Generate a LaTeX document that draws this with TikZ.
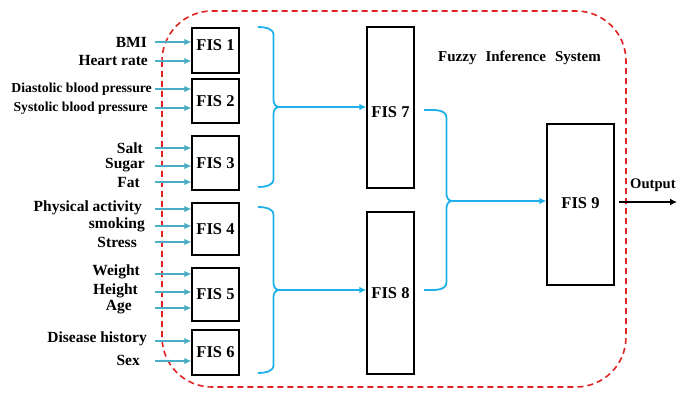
\documentclass[tikz,border=0pt]{standalone}
\usepackage{fontspec}
\setmainfont{Liberation Serif}
\usetikzlibrary{arrows.meta}
\definecolor{inblue}{HTML}{4BACC6}
\definecolor{brblue}{HTML}{1FB0EA}
\definecolor{dred}{HTML}{E02424}
\tikzset{
  fisbox/.style={draw, line width=1.1pt, inner sep=0pt, font=\fontsize{16.5}{18}\selectfont\bfseries},
  inlabel/.style={anchor=east, inner sep=0pt, font=\fontsize{15.5}{17}\selectfont\bfseries},
  smlabel/.style={anchor=east, inner sep=0pt, font=\fontsize{13.7}{15}\selectfont\bfseries},
  inarrow/.style={draw=inblue, line width=1.5pt, -{Latex[length=7pt,width=6.5pt]}},
  bracepath/.style={draw=brblue, line width=1.8pt},
  brarrow/.style={draw=brblue, line width=1.8pt, -{Latex[length=7pt,width=6.5pt]}},
  border/.style={draw=dred, line width=1.6pt, dash pattern=on 6pt off 4pt, rounded corners=50pt}
}
\begin{document}
\begin{tikzpicture}[x=1pt,y=-1pt]
\useasboundingbox (0,0) rectangle (678,393);
\clip (0,0) rectangle (678,393);
\fill[white] (0,0) rectangle (678,393);

% border
\draw[border] (162,11) rectangle (626,387);
\node[anchor=west, inner sep=0pt, font=\fontsize{15}{17}\selectfont\bfseries] (title) at (438,58) {Fuzzy\hspace{0.35em} Inference\hspace{0.35em} System};

% FIS boxes
\node[fisbox, minimum width=47pt, minimum height=45pt] (f1) at (215.5,50.5) {};
\node[inner sep=0pt, font=\fontsize{16.5}{18}\selectfont\bfseries] (f1t) at (215.5,45) {FIS 1};
\node[fisbox, minimum width=47pt, minimum height=44pt] (f2) at (215.5,101) {FIS 2};
\node[fisbox, minimum width=47pt, minimum height=54pt] (f3) at (215.5,163) {FIS 3};
\node[fisbox, minimum width=47pt, minimum height=52pt] (f4) at (215.5,229) {FIS 4};
\node[fisbox, minimum width=47pt, minimum height=53pt] (f5) at (215.5,294.5) {FIS 5};
\node[fisbox, minimum width=47pt, minimum height=45pt] (f6) at (215.5,352.5) {FIS 6};
\node[fisbox, minimum width=47pt, minimum height=161pt] (f7) at (390.5,107.5) {};
\node[inner sep=0pt, font=\fontsize{16.5}{18}\selectfont\bfseries] (f7t) at (390.5,112) {FIS 7};
\node[fisbox, minimum width=47pt, minimum height=162pt] (f8) at (390.5,293) {FIS 8};
\node[fisbox, minimum width=67pt, minimum height=161pt] (f9) at (580.5,204.5) {};
\node[inner sep=0pt, font=\fontsize{16.5}{18}\selectfont\bfseries] (f9t) at (580.5,203) {FIS 9};

% input arrow starts
\foreach \n/\y in {a/42, b/61, c/89, d/108, e/148, f/166, g/182, h/209, i/226, j/242, k/274, l/292, m/308, n/341, o/361}{
  \coordinate (s\n) at (155,\y);
}
% labels
\node[inlabel] (la) at (147,42) {BMI};
\node[inlabel] (lb) at (148,61) {Heart rate};
\node[smlabel] (lc) at (152,89) {Diastolic blood pressure};
\node[smlabel] (ld) at (148,108) {Systolic blood pressure};
\node[inlabel] (le) at (143,148) {Salt};
\node[inlabel] (lf) at (145,165) {Sugar};
\node[inlabel] (lg) at (140,183) {Fat};
\node[inlabel] (lh) at (142,208) {Physical activity};
\node[inlabel] (li) at (145,225) {smoking};
\node[inlabel] (lj) at (137,242) {Stress};
\node[inlabel] (lk) at (140,272) {Weight};
\node[inlabel] (ll) at (138,291) {Height};
\node[inlabel] (lm) at (132,307) {Age};
\node[inlabel] (ln) at (147,339) {Disease history};
\node[inlabel] (lo) at (140,360) {Sex};

% input arrows
\draw[inarrow] (sa) -- (f1.west |- sa);
\draw[inarrow] (sb) -- (f1.west |- sb);
\draw[inarrow] (sc) -- (f2.west |- sc);
\draw[inarrow] (sd) -- (f2.west |- sd);
\draw[inarrow] (se) -- (f3.west |- se);
\draw[inarrow] (sf) -- (f3.west |- sf);
\draw[inarrow] (sg) -- (f3.west |- sg);
\draw[inarrow] (sh) -- (f4.west |- sh);
\draw[inarrow] (si) -- (f4.west |- si);
\draw[inarrow] (sj) -- (f4.west |- sj);
\draw[inarrow] (sk) -- (f5.west |- sk);
\draw[inarrow] (sl) -- (f5.west |- sl);
\draw[inarrow] (sm) -- (f5.west |- sm);
\draw[inarrow] (sn) -- (f6.west |- sn);
\draw[inarrow] (so) -- (f6.west |- so);

% braces
\coordinate (b1) at (279,107);
\draw[bracepath] (258,27) to[out=0,in=90] (273.5,35) -- (273.5,100) to[out=-90,in=180] (b1);
\draw[bracepath] (258,187) to[out=0,in=-90] (273.5,179) -- (273.5,114) to[out=90,in=180] (b1);
\draw[brarrow] (b1) -- (f7.west |- b1);

\coordinate (b2) at (279,290);
\draw[bracepath] (258,207) to[out=0,in=90] (273.5,215) -- (273.5,283) to[out=-90,in=180] (b2);
\draw[bracepath] (258,373) to[out=0,in=-90] (273.5,365) -- (273.5,297) to[out=90,in=180] (b2);
\draw[brarrow] (b2) -- (f8.west |- b2);

\coordinate (b3) at (452,201);
\draw[bracepath] (424,110) to[out=0,in=90] (446.5,118) -- (446.5,194) to[out=-90,in=180] (b3);
\draw[bracepath] (424,290) to[out=0,in=-90] (446.5,282) -- (446.5,208) to[out=90,in=180] (b3);
\draw[brarrow] (b3) -- (f9.west |- b3);

% output
\coordinate (oend) at (677,202);
\draw[line width=1.8pt, -{Latex[length=7pt,width=7pt]}] (f9.east |- oend) ++(4,0) -- (oend);
\node[anchor=base west, inner sep=0pt, font=\fontsize{14.6}{16}\selectfont\bfseries] (out) at (630,189) {Output};
\end{tikzpicture}
\end{document}
